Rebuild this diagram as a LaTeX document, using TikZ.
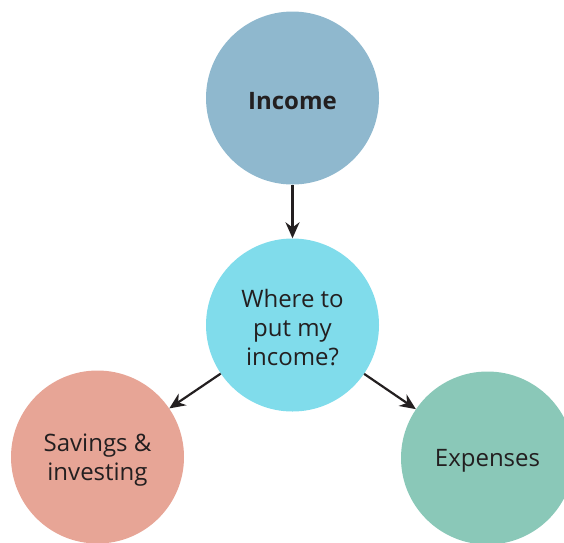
\documentclass[tikz,border=0pt]{standalone}
\usepackage{fontspec}
\setmainfont{Open Sans}
\usetikzlibrary{arrows.meta}
\definecolor{incomec}{HTML}{8FB8CE}
\definecolor{centerc}{HTML}{80DCEB}
\definecolor{savec}{HTML}{E7A596}
\definecolor{expc}{HTML}{8AC8B8}
\definecolor{txt}{HTML}{231F20}
\begin{document}
\begin{tikzpicture}[x=1pt,y=-1pt,
  bubble/.style={circle,minimum size=173pt,inner sep=0pt},
  btext/.style={text=txt,align=center,font=\fontsize{24}{29}\selectfont,yshift=-3pt},
  conn/.style={draw=txt,line width=2.2pt,-{Stealth[length=16pt,width=14pt]}}]
\useasboundingbox (0,0) rectangle (564,542);
\begin{scope}
\clip (0,0) rectangle (564,542);
\node[bubble,fill=incomec,label={[btext,font=\fontsize{24}{29}\selectfont\bfseries]center:Income}] (inc) at (292.5,98) {};
\node[bubble,fill=centerc,label={[btext]center:{Where to\\put my\\income?}}] (mid) at (292.5,325) {};
\node[bubble,fill=savec,label={[btext]center:{Savings \&\\investing}}] (sav) at (97.5,457) {};
\node[bubble,fill=expc,label={[btext]center:Expenses}] (exp) at (487.5,458) {};
\end{scope}
\draw[conn] (inc) -- (mid);
\draw[conn] (mid) -- (sav);
\draw[conn] (mid) -- (exp);
\end{tikzpicture}
\end{document}
